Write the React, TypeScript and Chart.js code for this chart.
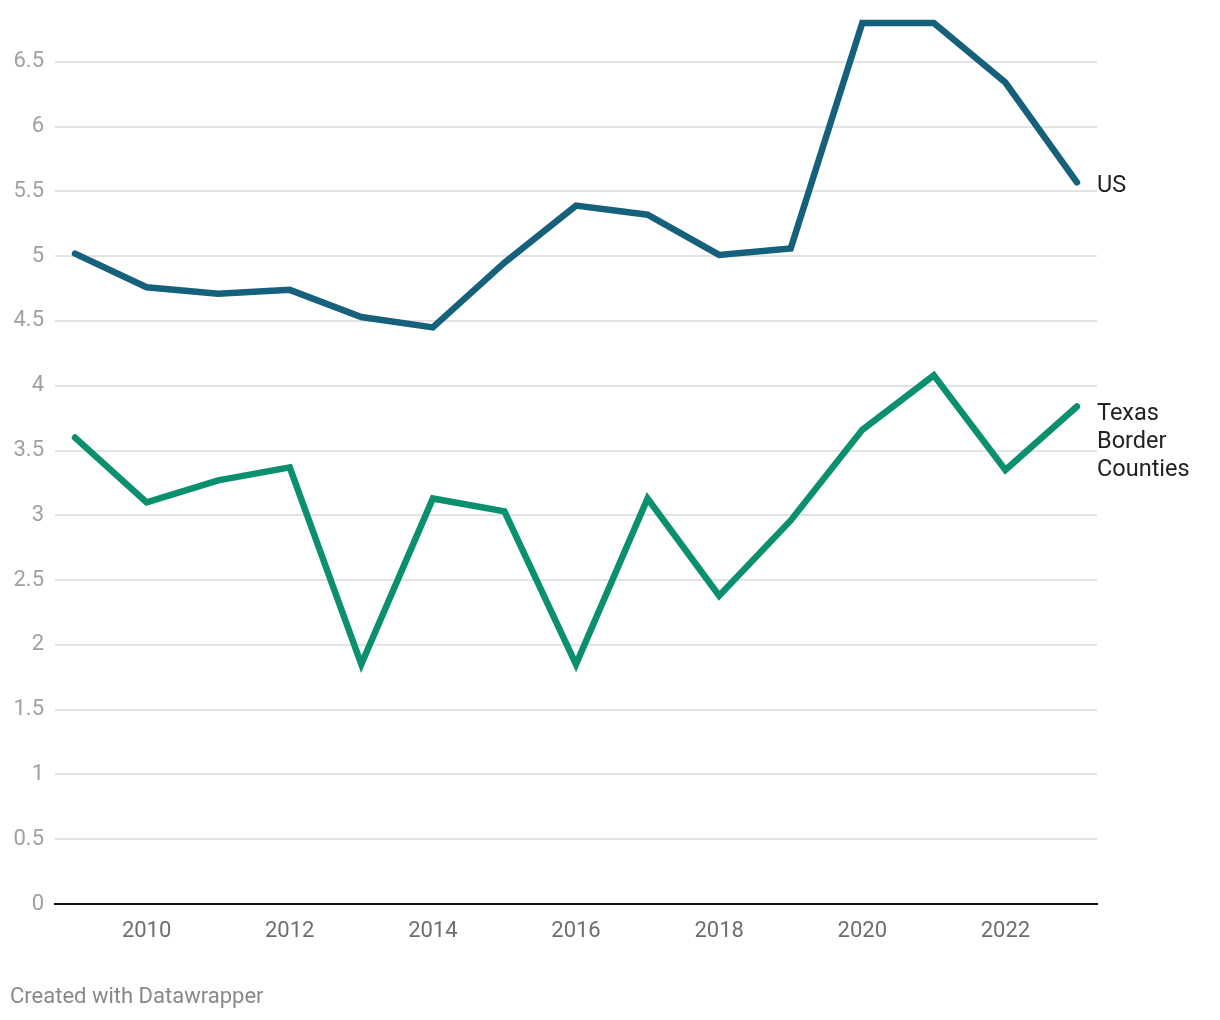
import React, { useEffect, useRef } from "react";
import { Chart, registerables } from "chart.js";

Chart.register(...registerables);

const years = [2009, 2010, 2011, 2012, 2013, 2014, 2015, 2016, 2017, 2018, 2019, 2020, 2021, 2022, 2023];
const usValues = [5.02, 4.76, 4.71, 4.74, 4.53, 4.45, 4.95, 5.39, 5.32, 5.01, 5.06, 6.8, 6.8, 6.34, 5.57];
const texasValues = [3.6, 3.1, 3.27, 3.37, 1.85, 3.13, 3.03, 1.85, 3.13, 2.38, 2.96, 3.66, 4.08, 3.35, 3.84];
const yTicks = [0, 0.5, 1, 1.5, 2, 2.5, 3, 3.5, 4, 4.5, 5, 5.5, 6, 6.5];
const xTicks = [2010, 2012, 2014, 2016, 2018, 2020, 2022];
const usLabel = ["US"];
const texasLabel = ["Texas", "Border", "Counties"];
const footer = "Created with Datawrapper";

const US_COLOR = "#15607a";
const TX_COLOR = "#0a8f6f";
const FONT = "Roboto, 'Noto Sans', sans-serif";

export default function App() {
  const ref = useRef<HTMLCanvasElement | null>(null);
  useEffect(() => {
    if (!ref.current) return;
    const labelPlugin = {
      id: "endLabels",
      afterDatasetsDraw(chart: any) {
        const ctx = chart.ctx;
        const ys = chart.scales.y;
        ctx.save();
        ctx.font = `23.5px ${FONT}`;
        ctx.fillStyle = "#222222";
        ctx.textAlign = "left";
        ctx.textBaseline = "middle";
        const lx = chart.chartArea.right;
        const usY = ys.getPixelForValue(usValues[usValues.length - 1]);
        usLabel.forEach((t, i) => ctx.fillText(t, lx, usY + 4 + i * 28));
        const txY = ys.getPixelForValue(texasValues[texasValues.length - 1]);
        texasLabel.forEach((t, i) => ctx.fillText(t, lx, txY + 8 + i * 28));
        ctx.font = `22px ${FONT}`;
        ctx.fillStyle = "#888888";
        ctx.fillText(footer, 10, 997);
        ctx.restore();
      },
    };
    const chart = new Chart(ref.current, {
      type: "line",
      data: {
        datasets: [
          {
            label: "US",
            data: years.map((y, i) => ({ x: y, y: usValues[i] })),
            borderColor: US_COLOR,
            borderWidth: 6.5,
            borderCapStyle: "round",
            borderJoinStyle: "miter",
            pointRadius: 0,
            tension: 0,
          },
          {
            label: "Texas Border Counties",
            data: years.map((y, i) => ({ x: y, y: texasValues[i] })),
            borderColor: TX_COLOR,
            borderWidth: 6.5,
            borderCapStyle: "round",
            borderJoinStyle: "miter",
            pointRadius: 0,
            tension: 0,
          },
        ],
      },
      options: {
        responsive: false,
        animation: false,
        layout: { padding: { left: 0, right: 123, top: 10, bottom: 0 } },
        plugins: { legend: { display: false }, tooltip: { enabled: false } },
        scales: {
          x: {
            type: "linear",
            min: 2008.72,
            max: 2023.28,
            afterBuildTicks: (s: any) => {
              s.ticks = xTicks.map((v) => ({ value: v }));
            },
            afterFit: (s: any) => {
              s.height = 116;
              s.paddingLeft = 0;
              s.paddingRight = 0;
            },
            grid: { display: false, drawTicks: false },
            border: { display: true, color: "#111111", width: 2 },
            ticks: {
              padding: 14,
              color: "#6e6e6e",
              font: { family: FONT, size: 22 },
              callback: (v: any) => String(v),
              maxRotation: 0,
              autoSkip: false,
            },
          },
          y: {
            min: 0,
            max: 6.9,
            afterBuildTicks: (s: any) => {
              s.ticks = yTicks.map((v) => ({ value: v }));
            },
            afterFit: (s: any) => {
              s.width = 55;
              s.paddingTop = 0;
              s.paddingBottom = 0;
            },
            grid: { color: "#e3e3e3", lineWidth: 2, drawTicks: false },
            border: { display: false },
            ticks: {
              padding: 11,
              color: "#a0a0a0",
              font: { family: FONT, size: 22 },
              callback: (v: any) => String(v),
              autoSkip: false,
            },
          },
        },
      },
      plugins: [labelPlugin],
    } as any);
    return () => chart.destroy();
  }, []);
  return (
    <div style={{ position: "fixed", left: 0, top: 0, width: 1220, height: 1020, background: "#fff" }}>
      <canvas ref={ref} width={1220} height={1020} style={{ width: 1220, height: 1020 }} />
    </div>
  );
}
